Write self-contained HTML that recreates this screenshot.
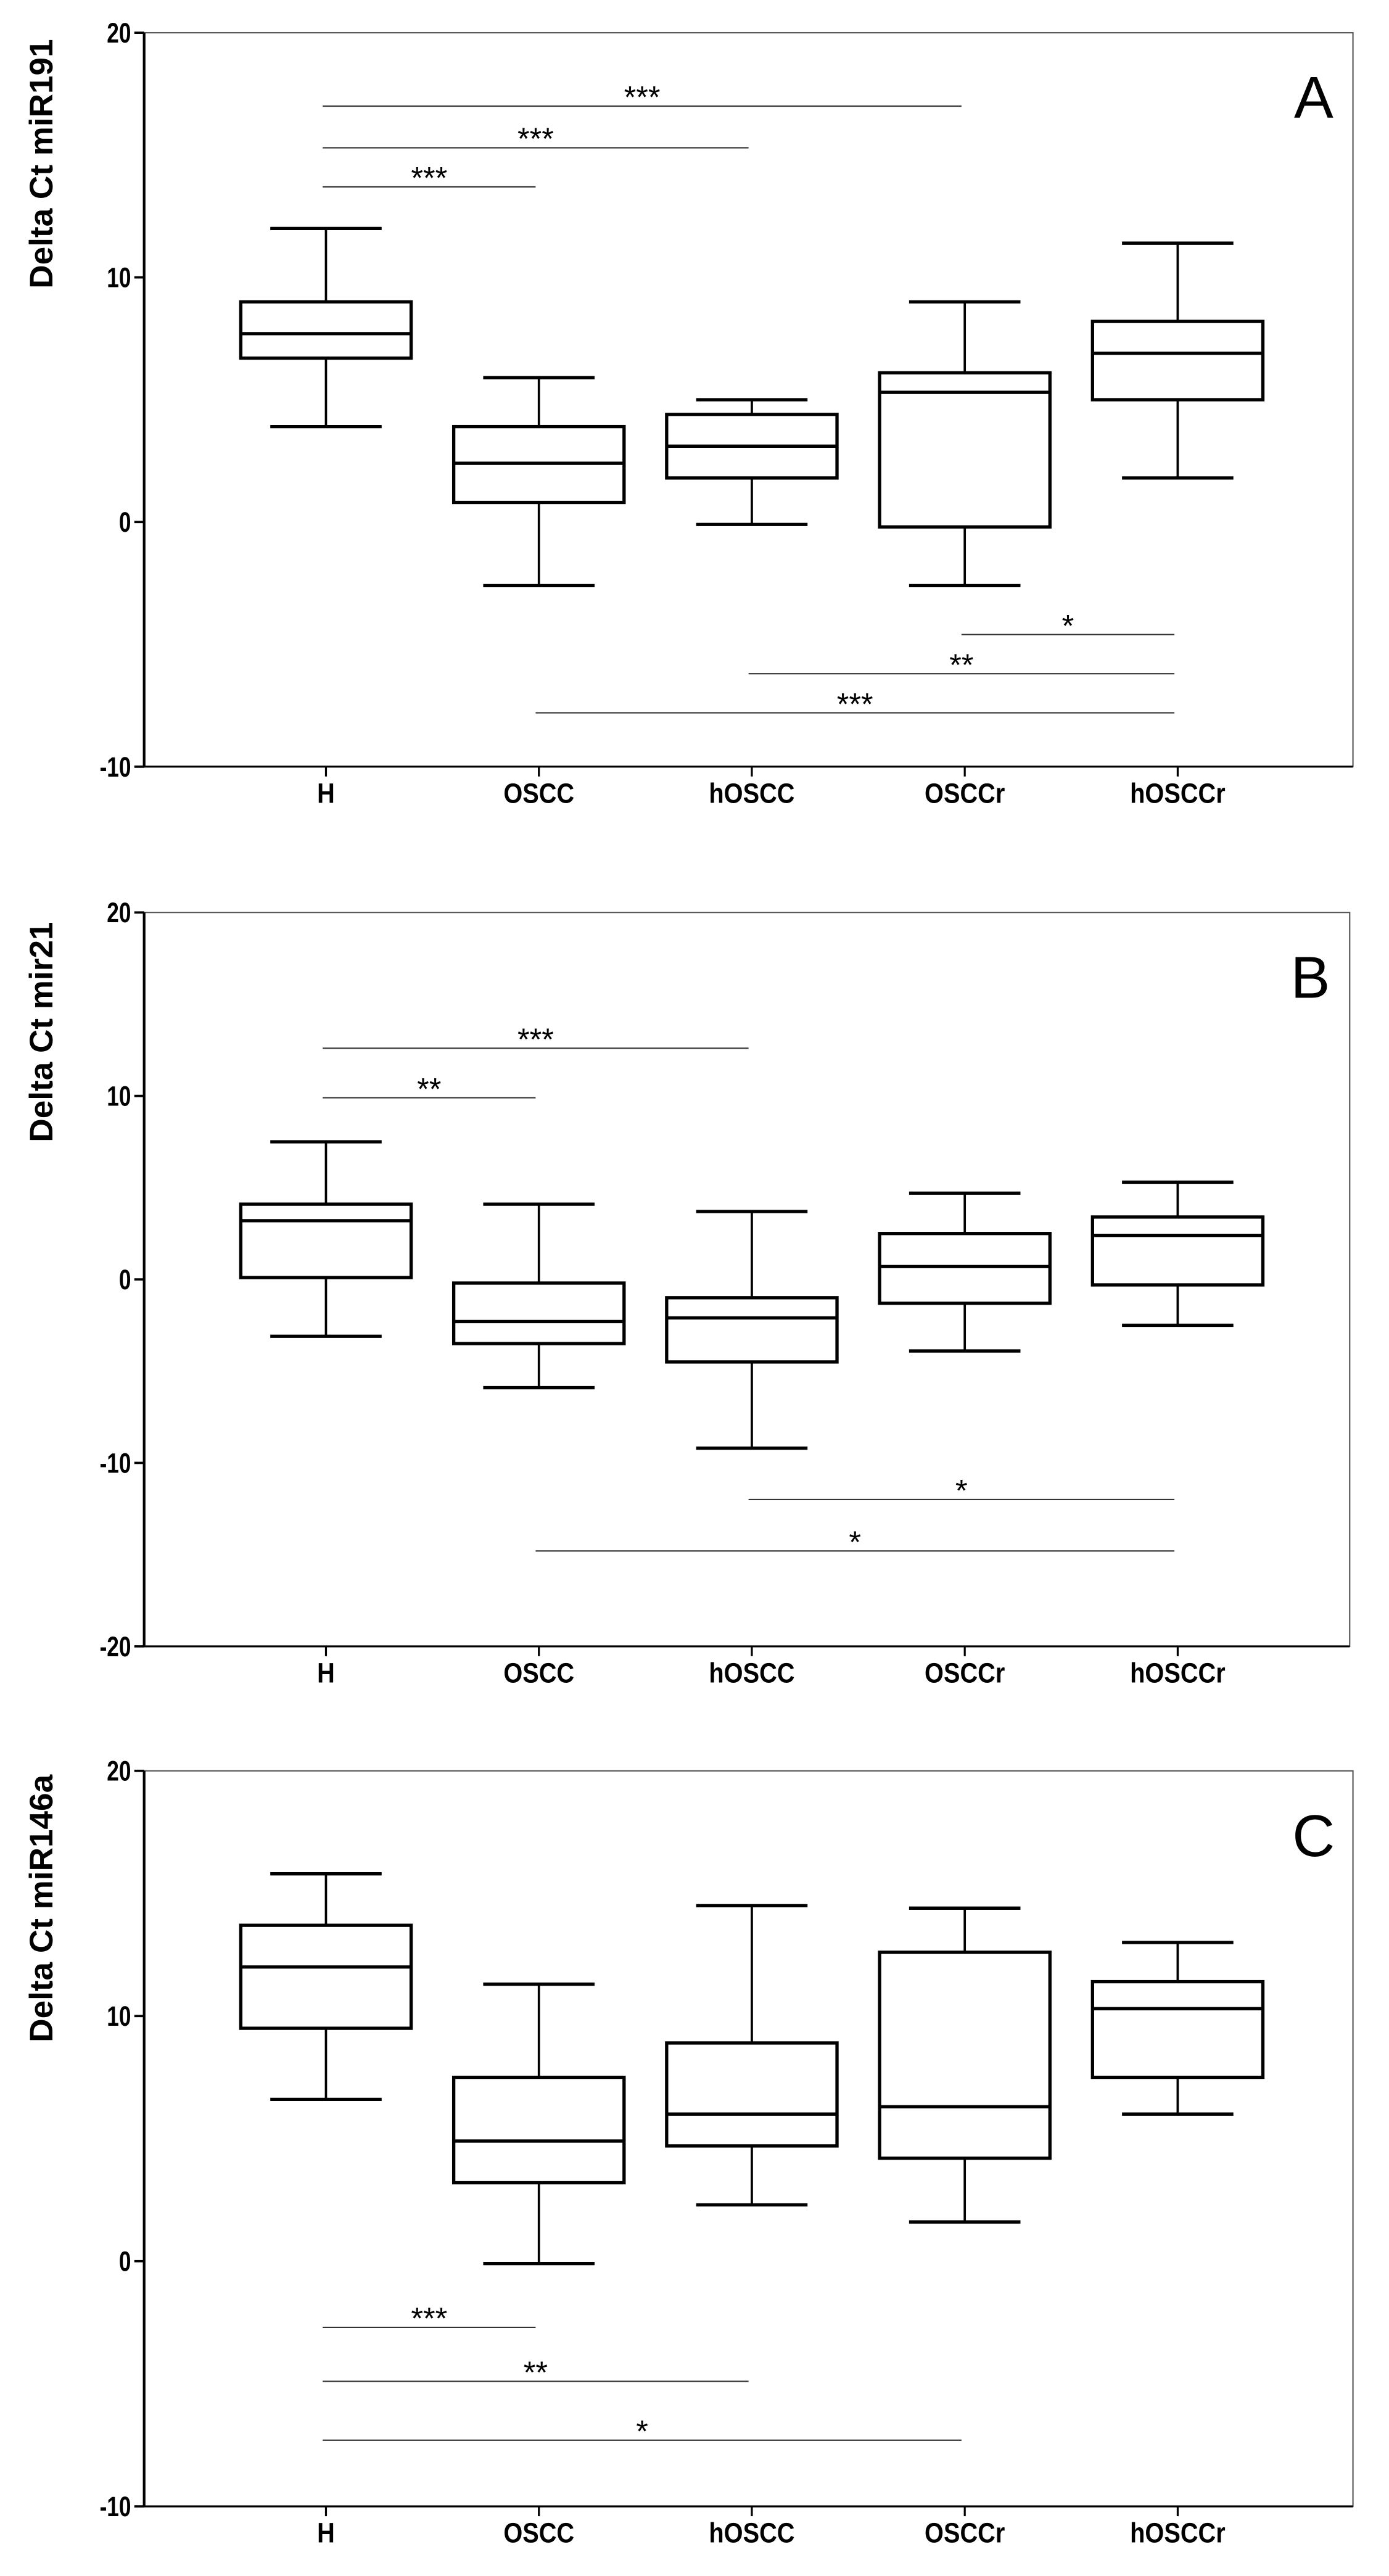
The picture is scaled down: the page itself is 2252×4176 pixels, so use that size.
<!DOCTYPE html>
<html><head><meta charset="utf-8"><style>
html,body{margin:0;padding:0;background:#fff;}
svg{display:block;}
</style></head><body>
<svg id="chart" xmlns="http://www.w3.org/2000/svg" width="2252" height="4176" viewBox="0 0 848 1572.5"></svg>
<script>
const categories = ["H","OSCC","hOSCC","OSCCr","hOSCCr"];
// panel A: miR191
const aWhiskerHigh = [12.0, 5.9, 5.0, 9.0, 11.4];
const aQ3 = [9.0, 3.9, 4.4, 6.1, 8.2];
const aMedian = [7.7, 2.4, 3.1, 5.3, 6.9];
const aQ1 = [6.7, 0.8, 1.8, -0.2, 5.0];
const aWhiskerLow = [3.9, -2.6, -0.1, -2.6, 1.8];
const aSigFrom = [0, 0, 0, 3, 2, 1];
const aSigTo = [3, 2, 1, 4, 4, 4];
const aSigY = [17.0, 15.3, 13.7, -4.6, -6.2, -7.8];
const aSigLabel = ["***","***","***","*","**","***"];
const aTicks = [20, 10, 0, -10];
// panel B: mir21
const bWhiskerHigh = [7.5, 4.1, 3.7, 4.7, 5.3];
const bQ3 = [4.1, -0.2, -1.0, 2.5, 3.4];
const bMedian = [3.2, -2.3, -2.1, 0.7, 2.4];
const bQ1 = [0.1, -3.5, -4.5, -1.3, -0.3];
const bWhiskerLow = [-3.1, -5.9, -9.2, -3.9, -2.5];
const bSigFrom = [0, 0, 2, 1];
const bSigTo = [2, 1, 4, 4];
const bSigY = [12.6, 9.9, -12.0, -14.8];
const bSigLabel = ["***","**","*","*"];
const bTicks = [20, 10, 0, -10, -20];
// panel C: miR146a
const cWhiskerHigh = [15.8, 11.3, 14.5, 14.4, 13.0];
const cQ3 = [13.7, 7.5, 8.9, 12.6, 11.4];
const cMedian = [12.0, 4.9, 6.0, 6.3, 10.3];
const cQ1 = [9.5, 3.2, 4.7, 4.2, 7.5];
const cWhiskerLow = [6.6, -0.1, 2.3, 1.6, 6.0];
const cSigFrom = [0, 0, 0];
const cSigTo = [1, 2, 3];
const cSigY = [-2.7, -4.9, -7.3];
const cSigLabel = ["***","**","*"];
const cTicks = [20, 10, 0, -10];

const NS = "http://www.w3.org/2000/svg";
const svg = document.getElementById("chart");
function mk(tag, attrs, parent){const e=document.createElementNS(NS,tag);for(const k in attrs)e.setAttribute(k,attrs[k]);(parent||svg).appendChild(e);return e;}

function panel(p){
  const g = mk("g",{});
  
  
  const L=88, R=p.right, T=p.top, B=p.bottom;
  const y = v => T + (p.ymax - v) / (p.ymax - p.ymin) * (B - T);
  const x = i => 199 + i * 130;
  const fr = mk("rect",{x:L,y:T,width:R-L,height:B-T,fill:"none",stroke:"#555","stroke-width":0.8},g);
  
  
  const ya = mk("line",{x1:L,y1:T,x2:L,y2:B,stroke:"#000","stroke-width":1.6},g);
  
  
  const xa = mk("line",{x1:L,y1:B,x2:R,y2:B,stroke:"#000","stroke-width":1.2},g);
  
  
  p.ticks.forEach(t=>{
    mk("line",{x1:L-6,y1:y(t),x2:L,y2:y(t),stroke:"#000","stroke-width":1.4},g);
    const tl = mk("text",{x:L-8,y:y(t)+6,"text-anchor":"end","font-family":"Liberation Sans, sans-serif","font-weight":"bold","font-size":17,"transform":`translate(${L-8},0) scale(0.78,1) translate(${-(L-8)},0)`},g);
    tl.textContent=t;
    
    
  });
  categories.forEach((c,i)=>{
    mk("line",{x1:x(i),y1:B,x2:x(i),y2:B+6,stroke:"#000","stroke-width":1.2},g);
    const xl = mk("text",{x:x(i),y:B+22,"text-anchor":"middle","font-family":"Liberation Sans, sans-serif","font-weight":"bold","font-size":17,"transform":`translate(${x(i)},0) scale(0.88,1) translate(${-x(i)},0)`},g);
    xl.textContent=c;
    
    
    const bg = mk("g",{stroke:"#000","stroke-width":2,fill:"none"},g);
    
    
    const hw=52, cw=34;
    mk("line",{x1:x(i),y1:y(p.wh[i]),x2:x(i),y2:y(p.q3[i]),"stroke-width":1.4},bg);
    mk("line",{x1:x(i),y1:y(p.q1[i]),x2:x(i),y2:y(p.wl[i]),"stroke-width":1.4},bg);
    mk("line",{x1:x(i)-cw,y1:y(p.wh[i]),x2:x(i)+cw,y2:y(p.wh[i])},bg);
    mk("line",{x1:x(i)-cw,y1:y(p.wl[i]),x2:x(i)+cw,y2:y(p.wl[i])},bg);
    mk("rect",{x:x(i)-hw,y:y(p.q3[i]),width:2*hw,height:y(p.q1[i])-y(p.q3[i])},bg);
    mk("line",{x1:x(i)-hw,y1:y(p.med[i]),x2:x(i)+hw,y2:y(p.med[i])},bg);
  });
  p.sf.forEach((f,k)=>{
    const x1=x(f)-2, x2=x(p.st[k])-2, yy=y(p.sy[k]);
    const sl = mk("line",{x1:x1,y1:yy,x2:x2,y2:yy,stroke:"#333","stroke-width":0.8},g);
    
    
    const st = mk("text",{x:(x1+x2)/2,y:yy+1,"text-anchor":"middle","font-family":"Liberation Sans, sans-serif","font-size":19},g);
    st.textContent=p.sl[k];
    
    
  });
  const lt = mk("text",{x:p.right-24,y:T+52,"text-anchor":"middle","font-family":"Liberation Sans, sans-serif","font-size":36},g);
  lt.textContent=p.letter;
  
  
  const yc = p.titleY;
  const yt = mk("text",{x:32,y:yc,"text-anchor":"middle","font-family":"Liberation Sans, sans-serif","font-weight":"bold","font-size":20,transform:`rotate(-90 32 ${yc})`},g);
  yt.textContent=p.title;
  
  
}
panel({name:"panel-a-mir191",top:20,bottom:468,right:826,ymax:20,ymin:-10,ticks:aTicks,wh:aWhiskerHigh,q3:aQ3,med:aMedian,q1:aQ1,wl:aWhiskerLow,sf:aSigFrom,st:aSigTo,sy:aSigY,sl:aSigLabel,letter:"A",title:"Delta Ct miR191",titleY:100});
panel({name:"panel-b-mir21",top:557,bottom:1005,right:824,ymax:20,ymin:-20,ticks:bTicks,wh:bWhiskerHigh,q3:bQ3,med:bMedian,q1:bQ1,wl:bWhiskerLow,sf:bSigFrom,st:bSigTo,sy:bSigY,sl:bSigLabel,letter:"B",title:"Delta Ct mir21",titleY:630});
panel({name:"panel-c-mir146a",top:1081,bottom:1530,right:826,ymax:20,ymin:-10,ticks:cTicks,wh:cWhiskerHigh,q3:cQ3,med:cMedian,q1:cQ1,wl:cWhiskerLow,sf:cSigFrom,st:cSigTo,sy:cSigY,sl:cSigLabel,letter:"C",title:"Delta Ct miR146a",titleY:1165});
</script>
</body></html>
